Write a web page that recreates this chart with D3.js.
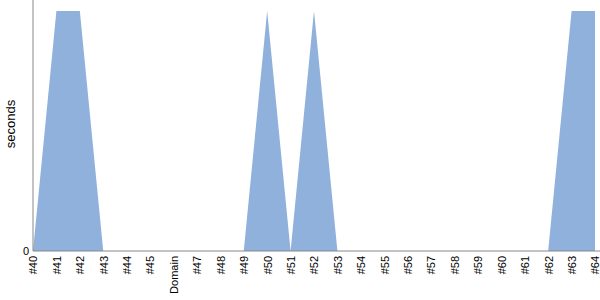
<!DOCTYPE html>
<html><head><meta charset="utf-8">
<script src="https://cdn.jsdelivr.net/npm/d3@7"></script>
<style>body{margin:0;background:#fff}svg{display:block}svg text{font-family:'Liberation Sans',Arial,sans-serif}</style>
</head><body>
<svg id="c" width="600" height="300"></svg>
<script>
const categories = ["#40","#41","#42","#43","#44","#45","Domain","#47","#48","#49","#50","#51","#52","#53","#54","#55","#56","#57","#58","#59","#60","#61","#62","#63","#64"];
const values = [0,1,1,0,0,0,0,0,0,0,1,0,1,0,0,0,0,0,0,0,0,0,0,1,1];
const yTicks = [0];
const yLabel = "seconds";

(function(){
const svg = d3.select("#c");
const FF = "'Liberation Sans', Arial, sans-serif";
const mL = 33, mR = 595, mT = 11, mB = 251;
const x = d3.scalePoint().domain(categories).range([mL, mR]);
const y = d3.scaleLinear().domain([0, 1]).range([mB, mT]);

const area = d3.area().x((d,i)=>x(categories[i])).y0(y(0)).y1(d=>y(d));
svg.append("path").datum(values).attr("d", area).attr("fill", "#8fb1dc");

const ya = svg.append("g").attr("transform", `translate(${mL},0)`)
  .call(d3.axisLeft(y).tickValues(yTicks).tickFormat(d3.format("d")).tickSize(0).tickPadding(4));
ya.select(".domain").attr("d", `M0,0V${mB}`).attr("stroke", "#888");
ya.selectAll("text").style("font-family", FF).style("font-size", "11px").attr("fill", "#000");

const xa = svg.append("g").attr("transform", `translate(0,${mB})`)
  .call(d3.axisBottom(x).tickSize(0).tickPadding(0));
xa.select(".domain").attr("d", `M${mL},0H600`).attr("stroke", "#888");
xa.selectAll("text")
  .style("font-family", FF).style("font-size", "11px").attr("fill", "#000")
  .attr("text-anchor", "end")
  .attr("transform", "rotate(-90)")
  .attr("x", -5).attr("y", 0).attr("dy", "0.35em");

svg.append("text").attr("transform", "translate(15,124) rotate(-90)")
  .attr("text-anchor", "middle").style("font-family", FF)
  .style("font-size", "13px").attr("fill", "#000").text(yLabel);
})();
</script>
</body></html>
